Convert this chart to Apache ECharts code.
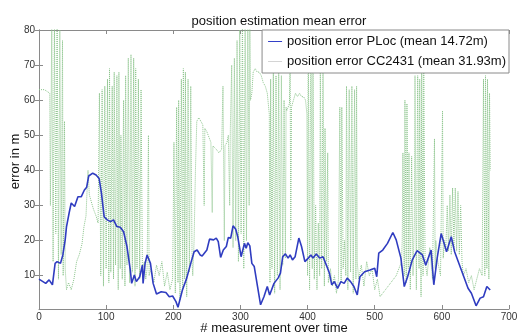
<!DOCTYPE html>
<html>
<head>
<meta charset="utf-8">
<script src="https://cdn.jsdelivr.net/npm/echarts@6/dist/echarts.min.js"></script>
<style>
  html, body { margin: 0; padding: 0; background: #fff; }
  #chart { width: 531px; height: 334px; }
</style>
</head>
<body>
<div id="chart"></div>
<script>
var plocErr = [
  [0, 9], [10, 7.8], [15, 8.8], [20, 7.4], [24, 13.5], [27, 14], [32, 13.5], [35.5, 15.9], [39, 20.2],
  [41, 24], [45, 28], [48, 30.7], [53, 29.7], [58, 32.5], [63, 32.5], [67.6, 34.4], [71, 35.2], [74, 38.4],
  [80, 39.2], [85, 38.7], [89.5, 37.7], [93, 33.5], [97, 26.8], [101.6, 25.9], [106.6, 25.4], [111, 25.9],
  [116, 24], [121, 23.8], [126, 22.5], [131, 18.3], [136, 11.6], [138, 7.8], [142, 10.2], [145, 8.3],
  [150, 9.7], [154, 13], [155, 7.8], [158, 13.5], [161, 15.9], [166, 13.5], [170, 7.8], [175, 4.8],
  [182, 5.4], [189, 5.2], [194, 4.0], [199, 4.2], [204, 2.6], [207, 1.0], [213.6, 5.9], [220, 9.3],
  [226, 13.5], [231, 16.8], [235.5, 17.3], [240, 15.9], [243, 15.6], [250, 17.3], [254, 20.4], [260, 20.2],
  [264, 20.7], [267, 19.7], [270.5, 15.2], [274.5, 17.3], [279, 18.3], [282, 20.9], [285.5, 20.7],
  [289, 24.2], [293, 23.2], [296, 21.1], [301, 15.4], [306, 19.2], [308.5, 17.8], [311, 19.4], [314, 18.5],
  [317, 13.5], [320.6, 12.6], [325.5, 6.9], [330, 1.7], [335, 4.0], [340, 6.9], [343.5, 4.5], [350, 7.8],
  [356, 9.3], [359.6, 10.7], [363, 15.4], [367, 16.2], [371, 15], [374, 15.9], [377.5, 14.5], [381.5, 15.4],
  [387, 20.7], [391, 18.3], [396, 14.0], [401, 15], [405, 15.9], [408, 15], [413, 16.2], [418, 15],
  [423, 15.4], [428, 13], [432.6, 10.7], [436, 7.4], [440, 8.3], [444.7, 6.4], [449.6, 8.3], [454.5, 7.8],
  [459, 9.3], [464, 8.3], [469, 6.9], [474, 4.5], [478, 9.7], [485, 11.1], [493, 11.6], [500, 12.1],
  [503, 9.7], [506, 16.4], [512, 17.3], [519, 19.2], [527, 22.3], [532, 20.2], [539, 15], [544, 6.9],
  [549, 9.7], [556, 14.5], [563, 17.1], [571, 15.9], [576, 13], [584, 17.3], [588, 7.4], [593, 15],
  [599, 22], [607, 16.8], [614, 21.1], [619, 16.8], [629, 11.6], [639, 6.4], [644, 5], [651, 1.4],
  [657, 3.6], [662, 4], [667, 6.9], [672, 5.9]
];

var ccErr = [
  [0, 63], [8, 63], [16, 62],
  [17, 30], [19, 82], [21, 14], [23, 84], [25, 22], [27, 83], [29, 9], [31, 80], [33, 16], [35, 77], [36, 10],
  [38, 54], [39, 12], [41, 6],
  [44, 8], [48, 6], [52, 9], [56, 14], [60, 16], [64, 19], [67, 24], [70, 27], [72, 36], [73, 40],
  [75, 33], [78, 31], [81, 29], [85, 27], [88, 25],
  [90, 62], [92, 10], [94, 63], [96, 7], [98, 64], [100, 12], [102, 66], [104, 8], [105, 69], [107, 11],
  [109, 64], [111, 9], [112, 68], [114, 13], [116, 67], [118, 6], [119, 68], [121, 12], [122, 50],
  [124, 9], [126, 60], [128, 7], [129, 67], [131, 13], [133, 72], [135, 8], [137, 73], [139, 11],
  [141, 72], [143, 7], [144, 69], [146, 12], [148, 66], [150, 9], [152, 63], [154, 12], [157, 14],
  [159, 9], [161, 12], [163, 50], [164, 10],
  [167, 12], [171, 8], [175, 13], [179, 10], [183, 14], [187, 7], [191, 11], [195, 6], [199, 9],
  [201, 48], [203, 5], [205, 58], [207, 8], [208, 60], [210, 3], [212, 66], [214, 6], [215, 69],
  [217, 9], [218, 68], [220, 4], [222, 66], [224, 11], [226, 64], [228, 14], [229, 10],
  [231, 20], [233, 40], [235, 54], [238, 55], [241, 54], [244, 53], [246, 30], [247, 52], [250, 51],
  [252, 50], [256, 48], [258, 28], [259, 47], [264, 46], [268, 45],
  [272, 46], [274, 64], [276, 20], [277, 47], [280, 48], [282, 50], [284, 30], [285, 52], [287, 70],
  [289, 18], [291, 72], [293, 20], [295, 77], [297, 14], [299, 80], [301, 22], [303, 85], [305, 12],
  [307, 86], [309, 20], [311, 84], [313, 30], [314, 82], [315, 60],
  [317, 62], [319, 68], [322, 69], [325, 68], [328, 68], [331, 67], [334, 65], [337, 64], [340, 62],
  [342, 58], [343, 56],
  [344, 8], [345, 66], [347, 12], [349, 68], [351, 5], [353, 67], [355, 10], [357, 68], [359, 6],
  [361, 67], [363, 13], [365, 60], [367, 15], [368, 58],
  [369, 57], [371, 58], [373, 59], [374, 70], [375, 20], [376, 58], [379, 60], [382, 62], [385, 61],
  [388, 62], [391, 61], [394, 61], [397, 60], [399, 56],
  [400, 10], [401, 82], [403, 6], [405, 84], [407, 12], [408, 82], [410, 9], [412, 30], [414, 6],
  [416, 25], [418, 10], [419, 69], [421, 12], [423, 70], [425, 7], [426, 52], [428, 14], [430, 45],
  [431, 8],
  [434, 12], [437, 7], [440, 10], [443, 5], [446, 9],
  [448, 58], [450, 8], [451, 58], [453, 12], [455, 20], [457, 10], [458, 64], [460, 6], [462, 63],
  [464, 11], [466, 64], [468, 5], [470, 63], [472, 9], [473, 64], [474, 14],
  [476, 9], [480, 13], [484, 7], [488, 14], [492, 10], [496, 12], [500, 6], [504, 9], [508, 4],
  [512, 5], [516, 6], [520, 7], [524, 8], [528, 9], [532, 10], [536, 12], [540, 14],
  [541, 20], [542, 45], [544, 10], [545, 60], [547, 8], [548, 59], [550, 12], [551, 45], [553, 6],
  [555, 44], [557, 10], [559, 25], [560, 67], [562, 6], [564, 67], [566, 12], [567, 66], [569, 4],
  [570, 70], [572, 10], [573, 71], [574, 40], [575, 14],
  [578, 10], [582, 18], [586, 9], [589, 49], [590, 12], [591, 20], [594, 14], [598, 10], [601, 57],
  [602, 15], [604, 20],
  [606, 18], [608, 30], [610, 17], [612, 33], [614, 16], [616, 35], [618, 18], [620, 35], [622, 17],
  [624, 34], [626, 16], [628, 30], [630, 14], [632, 10],
  [636, 12], [640, 8], [644, 10], [648, 6], [652, 9], [656, 12], [660, 10],
  [662, 66], [664, 10], [665, 67], [667, 12], [668, 66], [670, 9], [671, 62], [672, 40]
];

var yTicks = [10, 20, 30, 40, 50, 60, 70, 80];
var nameP = 'position error PLoc (mean 14.72m)';
var nameC = 'position error CC2431 (mean 31.93m)';

var font = 'Liberation Sans, Arial, sans-serif';
var axisGray = '#8a8a8a';

var chart = echarts.init(document.getElementById('chart'));

var xBase = {
  type: 'value', min: 0, max: 700, interval: 100,
  axisLine: { show: true, lineStyle: { color: axisGray, width: 1 } },
  axisTick: { show: true, inside: true, length: 4, lineStyle: { color: axisGray } },
  splitLine: { show: false }
};
var yBase = {
  type: 'value', min: 0.5, max: 80,
  axisLine: { show: true, lineStyle: { color: axisGray, width: 1 } },
  axisTick: { show: true, inside: true, length: 4, customValues: yTicks, lineStyle: { color: axisGray } },
  splitLine: { show: false }
};

var option = {
  backgroundColor: '#fff',
  animation: false,
  title: {
    text: 'position estimation mean error',
    left: 274, top: 10, textAlign: 'center',
    textStyle: { fontFamily: font, fontSize: 13, fontWeight: 'normal', color: '#111' }
  },
  legend: {
    orient: 'vertical', right: 22, top: 30,
    padding: [5, 3, 5, 6], itemGap: 7, itemWidth: 14, itemHeight: 1,
    backgroundColor: '#fff', borderColor: axisGray, borderWidth: 1, borderRadius: 0,
    textStyle: { fontFamily: font, fontSize: 13, color: '#111' },
    data: [
      { name: nameP, icon: 'rect', itemStyle: { color: '#3340c8' } },
      { name: nameC, icon: 'rect', itemStyle: { color: '#d4d4d4' } }
    ]
  },
  grid: { left: 39, right: 22, top: 30, bottom: 25, outerBoundsMode: 'none', containLabel: false },
  xAxis: [
    Object.assign({}, xBase, {
      position: 'bottom',
      name: '# measurement over time', nameLocation: 'middle', nameGap: 13, nameMoveOverlap: false,
      nameTextStyle: { fontFamily: font, fontSize: 13, color: '#111', verticalAlign: 'top' },
      axisLabel: { fontFamily: font, fontSize: 10, color: '#333', margin: 3 }
    }),
    Object.assign({}, xBase, { position: 'top', axisLabel: { show: false } })
  ],
  yAxis: [
    Object.assign({}, yBase, {
      position: 'left',
      name: 'error in m', nameLocation: 'middle', nameGap: 17, nameMoveOverlap: false,
      nameTextStyle: { fontFamily: font, fontSize: 13, color: '#111', padding: [0, 0, 0, 16] },
      axisLabel: { fontFamily: font, fontSize: 10, color: '#333', margin: 4, customValues: yTicks }
    }),
    Object.assign({}, yBase, { position: 'right', axisLabel: { show: false } })
  ],
  series: [
    {
      name: nameC, type: 'line', data: ccErr, showSymbol: false, z: 2,
      xAxisIndex: 0, yAxisIndex: 0, clip: true,
      lineStyle: { color: '#8cc48c', width: 1, type: 'dotted' },
      itemStyle: { color: '#d4d4d4' }
    },
    {
      name: nameP, type: 'line', data: plocErr, showSymbol: false, z: 3,
      xAxisIndex: 0, yAxisIndex: 0, clip: true,
      lineStyle: { color: '#2f3cc0', width: 1.6 },
      itemStyle: { color: '#2f3cc0' }
    }
  ]
};

chart.setOption(option);
</script>
</body>
</html>
